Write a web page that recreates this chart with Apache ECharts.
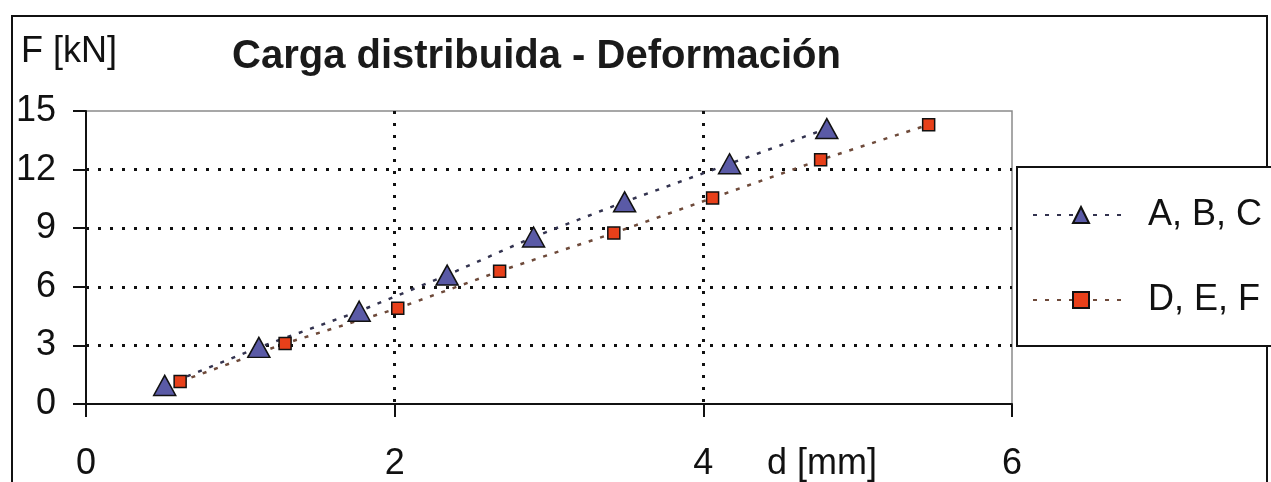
<!DOCTYPE html>
<html>
<head>
<meta charset="utf-8">
<script src="https://cdn.jsdelivr.net/npm/echarts@6/dist/echarts.min.js"></script>
<style>
  html, body { margin: 0; padding: 0; background: #fff; }
  #chart { width: 1271px; height: 482px; }
</style>
</head>
<body>
<div id="chart"></div>
<script>
// valores
const seriesNames = ['A, B, C', 'D, E, F']
const dABC = [0.51, 1.12, 1.77, 2.34, 2.90, 3.49, 4.17, 4.80]
const fABC = [0.95, 2.9, 4.75, 6.6, 8.55, 10.35, 12.3, 14.1]
const dDEF = [0.61, 1.29, 2.02, 2.68, 3.42, 4.06, 4.76, 5.46]
const fDEF = [1.15, 3.1, 4.9, 6.8, 8.75, 10.55, 12.5, 14.3]
const xTicks = [0, 2, 4, 6]
const yTicks = [0, 3, 6, 9, 12, 15]

const font = "'Liberation Sans', Arial, sans-serif"
const pairs = (xs, ys) => xs.map((x, i) => [x, ys[i]])

const chart = echarts.init(document.getElementById('chart'))

const option = {
  backgroundColor: '#fff',
  animation: false,
  title: {
    text: 'Carga distribuida - Deformación',
    left: 232,
    top: 37,
    padding: 0,
    textStyle: { fontFamily: font, fontSize: 40, fontWeight: 'bold', color: '#1a1a1a' }
  },
  grid: {
    left: 86,
    right: 259,
    top: 111,
    bottom: 78,
    show: true,
    borderColor: '#8a8a8a',
    borderWidth: 1.5,
    backgroundColor: '#fff'
  },
  legend: {
    orient: 'vertical',
    left: 1032,
    top: 197,
    padding: 0,
    itemWidth: 96,
    itemHeight: 20,
    itemGap: 49,
    selectedMode: false,
    data: seriesNames,
    textStyle: { fontFamily: font, fontSize: 36, color: '#111', padding: [0, 0, 0, 14] }
  },
  xAxis: {
    type: 'value',
    min: xTicks[0],
    max: xTicks[xTicks.length - 1],
    interval: 2,
    axisLine: { onZero: false, lineStyle: { color: '#111', width: 2 } },
    axisTick: { show: true, length: 13, lineStyle: { color: '#111', width: 2 } },
    axisLabel: { margin: 42, fontFamily: font, fontSize: 36, color: '#111' },
    splitLine: {
      show: true,
      showMinLine: false,
      showMaxLine: false,
      lineStyle: { color: '#111', width: 3, type: [3, 9] }
    }
  },
  yAxis: {
    type: 'value',
    min: yTicks[0],
    max: yTicks[yTicks.length - 1],
    interval: 3,
    axisLine: { show: true, onZero: false, lineStyle: { color: '#111', width: 2 } },
    axisTick: { show: true, length: 13, lineStyle: { color: '#111', width: 2 } },
    axisLabel: { margin: 30, fontFamily: font, fontSize: 36, color: '#111' },
    splitLine: {
      show: true,
      showMinLine: false,
      showMaxLine: false,
      lineStyle: { color: '#111', width: 3, type: [3, 9] }
    }
  },
  series: [
    {
      name: seriesNames[0],
      type: 'line',
      data: pairs(dABC, fABC),
      symbol: 'triangle',
      symbolSize: [22, 20],
      itemStyle: { color: '#5a5aa6', borderColor: '#111', borderWidth: 1.5 },
      lineStyle: { color: '#33334f', width: 2.5, type: [4, 8] },
      z: 3
    },
    {
      name: seriesNames[1],
      type: 'line',
      data: pairs(dDEF, fDEF),
      symbol: 'rect',
      symbolSize: 12,
      itemStyle: { color: '#e8401a', borderColor: '#111', borderWidth: 1.5 },
      lineStyle: { color: '#6e4a3a', width: 2.5, type: [4, 8] },
      z: 3
    }
  ],
  graphic: [
    {
      type: 'rect',
      shape: { x: 12, y: 16, width: 1255, height: 500 },
      style: { fill: 'none', stroke: '#111', lineWidth: 2 },
      silent: true,
      z: -1
    },
    {
      type: 'rect',
      shape: { x: 1017, y: 167, width: 260, height: 179 },
      style: { fill: '#fff', stroke: '#111', lineWidth: 2 },
      silent: true,
      z: -1
    },
    {
      type: 'text',
      left: 21,
      top: 34,
      style: { text: 'F [kN]', font: "36px 'Liberation Sans', Arial, sans-serif", fill: '#111' }
    },
    {
      type: 'text',
      left: 767,
      top: 446,
      style: { text: 'd [mm]', font: "36px 'Liberation Sans', Arial, sans-serif", fill: '#111' }
    }
  ]
}

chart.setOption(option)

window.addEventListener('resize', () => {
  chart.resize()
})
</script>
</body>
</html>
